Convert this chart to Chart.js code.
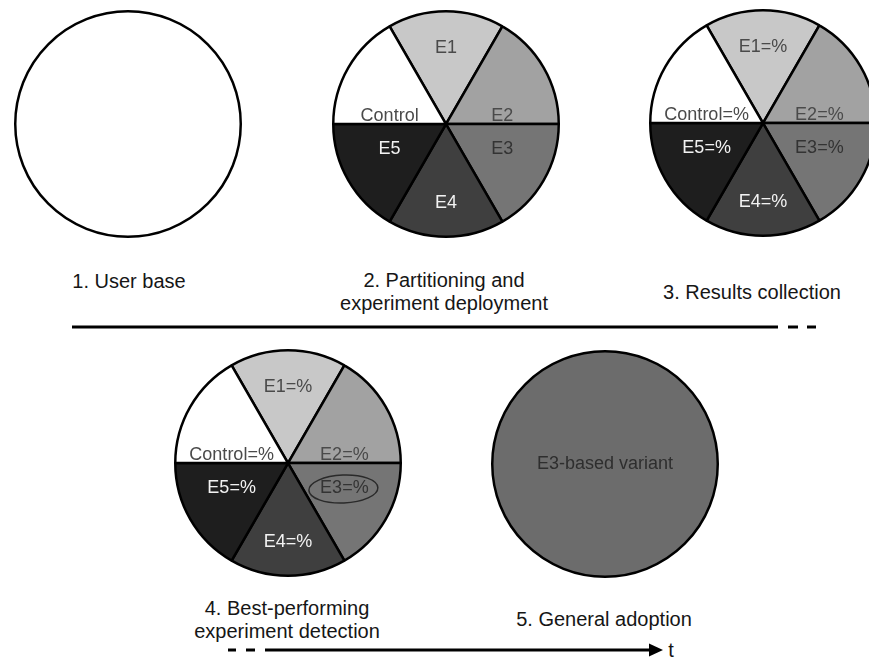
<!DOCTYPE html>
<html>
<head>
<meta charset="utf-8">
<title>Experiment rollout</title>
<script src="https://cdn.jsdelivr.net/npm/chart.js@4.4.1/dist/chart.umd.min.js"></script>
<style>
    html, body { margin: 0; padding: 0; width: 869px; height: 663px; overflow: hidden; background: #fff; }
    .pie { position: absolute; width: 228px; height: 228px; }
    .caption {
        position: absolute;
        transform: translateX(-50%);
        font: 20px "Liberation Sans", Arial, sans-serif;
        line-height: 23px;
        color: #161616;
        text-align: center;
        white-space: nowrap;
    }
    svg { position: absolute; left: 0; top: 0; }
</style>
</head>
<body>
<svg width="869" height="663">
    <!-- timeline, upper row -->
    <line x1="72" y1="327" x2="778" y2="327" stroke="#000" stroke-width="3"/>
    <line x1="788" y1="327" x2="798" y2="327" stroke="#000" stroke-width="3"/>
    <line x1="807" y1="327" x2="816" y2="327" stroke="#000" stroke-width="3"/>
    <!-- timeline, lower row -->
    <line x1="228" y1="650" x2="236" y2="650" stroke="#000" stroke-width="3"/>
    <line x1="246" y1="650" x2="255" y2="650" stroke="#000" stroke-width="3"/>
    <line x1="265" y1="650" x2="654" y2="650" stroke="#000" stroke-width="3"/>
    <polygon points="649,643.5 663,650 649,656.5" fill="#000"/>
</svg>

<div class="pie" style="left:14px; top:10px"><canvas id="userBaseChart"></canvas></div>
<div class="pie" style="left:332px; top:10px"><canvas id="deployChart"></canvas></div>
<div class="pie" style="left:649px; top:9px"><canvas id="resultsChart"></canvas></div>
<div class="pie" style="left:174px; top:349px"><canvas id="detectChart"></canvas></div>
<div class="pie" style="left:491px; top:350px"><canvas id="adoptChart"></canvas></div>

<div class="caption" style="left:129px; top:269.5px">1. User base</div>
<div class="caption" style="left:444px; top:268.5px">2. Partitioning and<br>experiment deployment</div>
<div class="caption" style="left:752px; top:280.5px">3. Results collection</div>
<div class="caption" style="left:287px; top:597px">4. Best-performing<br>experiment detection</div>
<div class="caption" style="left:604px; top:607.5px">5. General adoption</div>
<div class="caption" style="left:671px; top:639px">t</div>

<script>
// Slices, clockwise from the top-left edge
const sliceNames = ['E1', 'E2', 'E3', 'E4', 'E5', 'Control'];
const sliceShares = [1, 1, 1, 1, 1, 1]; // six equal parts
const sliceColors = ['#c8c8c8', '#a2a2a2', '#757575', '#3f3f3f', '#1e1e1e', '#ffffff'];
const labelColors = ['#4a4a4a', '#4a4a4a', '#333333', '#f2f2f2', '#f2f2f2', '#4a4a4a'];

const resultLabels = ['E1=%', 'E2=%', 'E3=%', 'E4=%', 'E5=%', 'Control=%'];
const bestSlice = 2; // E3

const userBaseShare = [1];
const adoptedShare = [1];
const adoptedLabel = ['E3-based variant'];
const adoptedColor = '#6c6c6c';

const borderW = 2.5;

// Labels (and the outline of one-slice pies) drawn on top of the slices
const sliceLabelPlugin = {
    id: 'sliceLabels',
    afterDatasetsDraw(chart, args, opts) {
        const ctx = chart.ctx;
        const arcs = chart.getDatasetMeta(0).data;
        ctx.save();
        if (arcs.length === 1) {
            // whole circle: stroke it here so no radius line shows
            const p = arcs[0].getProps(['x', 'y', 'outerRadius'], true);
            ctx.beginPath();
            ctx.arc(p.x, p.y, p.outerRadius, 0, Math.PI * 2);
            ctx.strokeStyle = '#000';
            ctx.lineWidth = borderW;
            ctx.stroke();
        }
        ctx.font = '18px "Liberation Sans", Arial, sans-serif';
        ctx.textAlign = 'center';
        arcs.forEach((arc, i) => {
            const text = opts.texts ? opts.texts[i] : null;
            if (!text) return;
            const p = arc.getProps(['x', 'y', 'startAngle', 'endAngle', 'outerRadius'], true);
            let tx = p.x, ty = p.y, centerY = p.y;
            if (arcs.length === 1) {
                ctx.textBaseline = 'middle';
            } else {
                const mid = (p.startAngle + p.endAngle) / 2;
                const dx = Math.cos(mid), dy = Math.sin(mid);
                if (Math.abs(dx) < 0.3) {
                    ctx.textBaseline = 'middle';
                    ty = p.y + dy * p.outerRadius * (dy < 0 ? 0.67 : 0.70);
                    centerY = ty;
                } else {
                    ctx.textBaseline = 'alphabetic';
                    tx = p.x + Math.sign(dx) * p.outerRadius * 0.5;
                    ty = dy < 0 ? p.y - 3.5 : p.y + 30;
                    centerY = ty - 6.5;
                }
            }
            ctx.fillStyle = opts.colors[i];
            ctx.fillText(text, tx, ty);
            if (i === opts.circled) {
                ctx.beginPath();
                ctx.ellipse(tx - 1, centerY + 2.5, 34.5, 14, -0.04, 0, Math.PI * 2);
                ctx.strokeStyle = '#2a2a2a';
                ctx.lineWidth = 1.5;
                ctx.stroke();
            }
        });
        ctx.restore();
    }
};

function makePie(id, labels, values, colors, labelOpts) {
    const ctx = document.getElementById(id).getContext('2d');
    const single = values.length === 1;
    return new Chart(ctx, {
        type: 'pie',
        data: {
            labels: labels,
            datasets: [{
                data: values,
                backgroundColor: colors,
                borderColor: '#000',
                borderWidth: single ? 0 : borderW,
                hoverOffset: 0
            }]
        },
        options: {
            responsive: true,
            maintainAspectRatio: false,
            animation: false,
            events: [],
            rotation: -30,
            layout: { padding: single ? borderW / 2 : 0 },
            plugins: {
                legend: { display: false },
                tooltip: { enabled: false },
                sliceLabels: labelOpts
            }
        },
        plugins: [sliceLabelPlugin]
    });
}

makePie('userBaseChart', ['User base'], userBaseShare, ['#ffffff'], {});
makePie('deployChart', sliceNames, sliceShares, sliceColors,
    { texts: sliceNames, colors: labelColors, circled: -1 });
makePie('resultsChart', resultLabels, sliceShares, sliceColors,
    { texts: resultLabels, colors: labelColors, circled: -1 });
makePie('detectChart', resultLabels, sliceShares, sliceColors,
    { texts: resultLabels, colors: labelColors, circled: bestSlice });
makePie('adoptChart', adoptedLabel, adoptedShare, [adoptedColor],
    { texts: adoptedLabel, colors: ['#2e2e2e'], circled: -1 });
</script>
</body>
</html>
